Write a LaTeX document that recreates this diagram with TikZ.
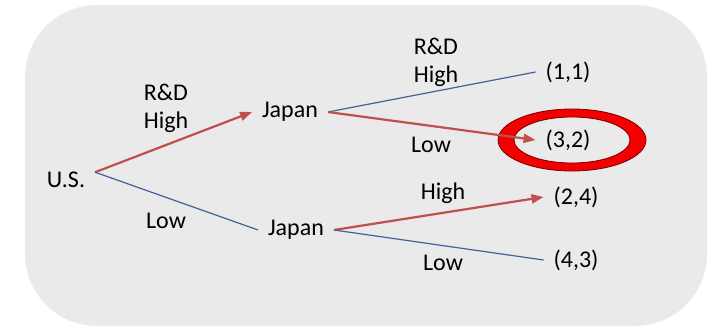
\documentclass[tikz,border=0pt]{standalone}
\usepackage{fontspec}
\setmainfont{Carlito}
\usepackage{xcolor}
\usetikzlibrary{arrows.meta}

\definecolor{bgray}{HTML}{EAEAEA}
\definecolor{redline}{HTML}{C0504D}
\definecolor{blueline}{HTML}{44609A}
\definecolor{ringred}{HTML}{F20000}
\definecolor{ringdark}{HTML}{7A0000}

\begin{document}
\begin{tikzpicture}[
  x=1pt, y=-1pt,
  font=\fontsize{24}{28}\selectfont,
  pl/.style   ={inner sep=0pt,outer sep=10pt},
  po/.style   ={inner sep=0pt,outer sep=10pt},
  lbl/.style  ={align=left,inner sep=0pt},
  best/.style ={draw=redline,line width=2.2pt,
                -{Triangle[length=12pt,width=9pt]}},
  other/.style={draw=blueline,line width=1.2pt}]

\useasboundingbox (0,0) rectangle (708,327);
\fill[bgray,rounded corners=72pt] (25,5) rectangle (707,326);

% ---------- players ----------
\node[pl] (us)  at (66,180)  {U.S.};
\node[pl] (jpH) at (290,112) {Japan};
\node[pl] (jpL) at (296,230) {Japan};

% ---------- payoffs ----------
\node[po] (p11) at (568,72)  {(1,1)};
\node[po] (p32) at (568,140) {(3,2)};
\node[po] (p24) at (576,197) {(2,4)};
\node[po] (p43) at (576,260) {(4,3)};

% ring round the equilibrium
\fill[ringred,even odd rule,draw=ringdark,line width=0.8pt]
  ([xshift=4pt]p32.center) ellipse [x radius=74pt,y radius=31pt]
  ([xshift=4pt]p32.center) ellipse [x radius=58pt,y radius=23pt];

% ---------- branches ----------
\draw[best]  (us.15) -- (jpH.west);
\draw[other] (us.15) -- (jpL.west);
\draw[other] (jpH.east) -- (p11.west);
\draw[best]  (jpH.east) -- (p32.west);
\draw[best]  (jpL.east) -- (p24.west);
\draw[other] (jpL.east) -- (p43.west);

% ---------- moves ----------
\node[lbl] (uHi) at (166,108) {R\&D\\High};
\node[lbl] (uLo) at (166,221) {Low};
\node[lbl] (aHi) at (436,62)  {R\&D\\High};
\node[lbl] (aLo) at (431,145) {Low};
\node[lbl] (bHi) at (443,193) {High};
\node[lbl] (bLo) at (443,263) {Low};

\end{tikzpicture}
\end{document}
